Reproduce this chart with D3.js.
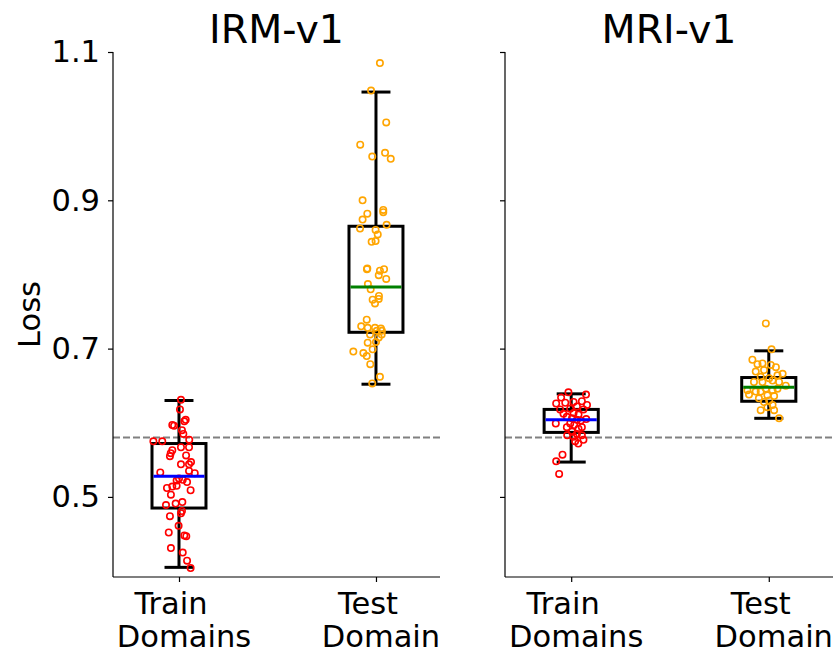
<!DOCTYPE html>
<html>
<head>
<meta charset="utf-8">
<script src="https://cdn.jsdelivr.net/npm/d3@7"></script>
<style>
  body { margin: 0; background: #fff; }
  svg { font-family: "DejaVu Sans", sans-serif; }
</style>
</head>
<body>
<div class="js-vis"></div>
<script>
const panels = ['IRM-v1', 'MRI-v1']
const groups = ['Train Domains', 'Test Domain']
const yTicks = [0.5, 0.7, 0.9, 1.1]
const baseline = 0.58

// box stats per panel: [train, test] -> [lowCap, q1, median, q3, highCap]
const boxStats = [
  [[0.405, 0.485, 0.528, 0.572, 0.630], [0.652, 0.722, 0.783, 0.865, 1.046]],
  [[0.547, 0.587, 0.604, 0.618, 0.639], [0.606, 0.629, 0.648, 0.661, 0.697]]
]

// raw points (loss) and their horizontal jitter (in category units)
const irmTrain = [0.631, 0.618, 0.604, 0.602, 0.597, 0.596, 0.590, 0.585, 0.575, 0.575, 0.577,
  0.567, 0.567, 0.563, 0.559, 0.555, 0.556, 0.547, 0.544, 0.544, 0.535, 0.532, 0.533, 0.525,
  0.522, 0.523, 0.520, 0.514, 0.512, 0.515, 0.509, 0.503, 0.489, 0.491, 0.493, 0.478, 0.481,
  0.474, 0.461, 0.452, 0.448, 0.447, 0.431, 0.425, 0.414, 0.404]
const irmTrainJit = [0.010, 0.005, 0.034, 0.027, -0.034, -0.025, 0.015, 0.022, -0.130, -0.085, 0.052,
  0.010, 0.051, -0.034, -0.042, -0.046, 0.036, 0.061, 0.051, 0.010, 0.051, 0.080, -0.095, 0.000,
  -0.012, 0.019, 0.041, -0.034, -0.061, -0.012, 0.059, -0.041, -0.066, -0.017, 0.017, 0.010, 0.015,
  -0.046, -0.002, -0.052, 0.027, 0.037, -0.041, 0.019, 0.041, 0.059]

const irmTest = [1.085, 1.048, 1.005, 0.975, 0.959, 0.964, 0.956, 0.900, 0.887, 0.882, 0.884,
  0.874, 0.867, 0.862, 0.860, 0.854, 0.844, 0.845, 0.808, 0.807, 0.805, 0.807, 0.799, 0.794,
  0.787, 0.780, 0.771, 0.766, 0.761, 0.767, 0.739, 0.730, 0.728, 0.728, 0.727, 0.724, 0.724,
  0.719, 0.719, 0.715, 0.709, 0.708, 0.699, 0.696, 0.694, 0.690, 0.679, 0.662, 0.653]
const irmTestJit = [0.020, -0.025, 0.052, -0.080, -0.019, 0.046, 0.075, -0.068, 0.037, -0.044, 0.037,
  -0.068, 0.054, -0.081, -0.002, 0.009, -0.022, -0.002, -0.044, -0.046, 0.020, 0.041, 0.014, 0.052,
  -0.041, -0.027, 0.015, -0.017, -0.005, 0.014, -0.047, -0.075, -0.042, -0.005, 0.025, 0.004, 0.030,
  -0.030, 0.029, 0.014, 0.000, -0.042, -0.017, -0.115, -0.064, -0.047, -0.029, 0.020, -0.019]

const mriTrain = [0.641, 0.638, 0.634, 0.626, 0.627, 0.628, 0.629, 0.624, 0.622, 0.618, 0.619, 0.618,
  0.612, 0.613, 0.611, 0.608, 0.606, 0.605, 0.604, 0.603, 0.599, 0.599, 0.597, 0.592, 0.594,
  0.594, 0.588, 0.585, 0.583, 0.581, 0.583, 0.575, 0.577, 0.572, 0.557, 0.548, 0.531]
const mriTrainJit = [-0.014, 0.075, -0.051, -0.076, -0.030, 0.012, 0.054, 0.080, 0.029, -0.056, -0.005, 0.062,
  -0.039, 0.012, 0.037, -0.022, 0.004, 0.076, 0.029, 0.049, -0.078, -0.005, 0.015, 0.037, -0.022,
  0.054, 0.004, 0.029, -0.020, 0.012, 0.054, 0.020, 0.062, 0.036, -0.044, -0.076, -0.061]

const mriTest = [0.734, 0.699, 0.685, 0.679, 0.680, 0.678, 0.675, 0.669, 0.671, 0.666, 0.664,
  0.662, 0.660, 0.655, 0.655, 0.657, 0.655, 0.650, 0.644, 0.642, 0.642, 0.646, 0.644, 0.646,
  0.638, 0.637, 0.636, 0.633, 0.630, 0.628, 0.624, 0.621, 0.617, 0.617, 0.606]
const mriTestJit = [-0.015, 0.014, -0.083, -0.057, -0.032, 0.010, 0.036, -0.066, -0.024, 0.070, 0.044,
  -0.041, 0.002, -0.075, -0.032, 0.019, 0.052, 0.086, -0.108, -0.066, -0.041, -0.015, 0.019, 0.044,
  -0.100, -0.007, 0.027, -0.050, 0.002, -0.024, 0.019, -0.007, -0.041, 0.027, 0.052]

const points = [
  [[irmTrain, irmTrainJit], [irmTest, irmTestJit]],
  [[mriTrain, mriTrainJit], [mriTest, mriTestJit]]
]

const pointColors = ['red', 'orange']
const medianColors = ['blue', 'green']

const W = 839, H = 659
const yTop = 52, yBottom = 577
const panelX = [[113, 440], [505, 833]]

const svg = d3.select('.js-vis').append('svg')
  .attr('width', W)
  .attr('height', H)

const y = d3.scaleLinear()
  .domain([0.392, 1.1])
  .range([yBottom, yTop])

const boxW = 0.274, capW = 0.147

panels.forEach(function(name, p) {
  const x = d3.scaleLinear()
    .domain([0.665, 2.325])
    .range(panelX[p])

  const g = svg.append('g')

  // dashed reference line
  g.append('line')
    .attr('x1', panelX[p][0]).attr('x2', panelX[p][1])
    .attr('y1', y(baseline)).attr('y2', y(baseline))
    .attr('stroke', '#808080')
    .attr('stroke-width', 2)
    .attr('stroke-dasharray', '7,3')

  groups.forEach(function(grp, i) {
    const s = boxStats[p][i], c = i + 1
    const b = g.append('g')
      .attr('stroke', 'black')
      .attr('stroke-width', 3)
      .attr('fill', 'none')

    b.append('line').attr('x1', x(c)).attr('x2', x(c)).attr('y1', y(s[0])).attr('y2', y(s[1]))
    b.append('line').attr('x1', x(c)).attr('x2', x(c)).attr('y1', y(s[3])).attr('y2', y(s[4]))
    b.append('line').attr('x1', x(c - capW / 2)).attr('x2', x(c + capW / 2)).attr('y1', y(s[0])).attr('y2', y(s[0]))
    b.append('line').attr('x1', x(c - capW / 2)).attr('x2', x(c + capW / 2)).attr('y1', y(s[4])).attr('y2', y(s[4]))
    b.append('rect')
      .attr('x', x(c - boxW / 2))
      .attr('y', y(s[3]))
      .attr('width', x(c + boxW / 2) - x(c - boxW / 2))
      .attr('height', y(s[1]) - y(s[3]))

    const vals = points[p][i][0], jit = points[p][i][1]
    g.append('g').selectAll('circle')
      .data(vals)
    .enter().append('circle')
      .attr('cx', function(d, k) { return x(c + jit[k]) })
      .attr('cy', function(d) { return y(d) })
      .attr('r', 3.2)
      .attr('fill', 'none')
      .attr('stroke', pointColors[i])
      .attr('stroke-width', 1.6)

    g.append('line')
      .attr('x1', x(c - boxW / 2) + 1.5).attr('x2', x(c + boxW / 2) - 1.5)
      .attr('y1', y(s[2])).attr('y2', y(s[2]))
      .attr('stroke', medianColors[i])
      .attr('stroke-width', 3)
  })

  // axes
  const yax = d3.axisLeft(y).tickValues(yTicks).tickSize(5).tickPadding(8)
    .tickFormat(p === 0 ? d3.format('.1f') : '')
  const ya = g.append('g')
    .attr('transform', 'translate(' + panelX[p][0] + ',0)')
    .call(yax)
  ya.select('.domain').attr('d', 'M0,' + yTop + 'V' + yBottom)

  const xax = d3.axisBottom(x).tickValues([1, 2]).tickSize(5).tickFormat('')
  const xa = g.append('g')
    .attr('transform', 'translate(0,' + yBottom + ')')
    .call(xax)
  xa.select('.domain').attr('d', 'M' + panelX[p][0] + ',0H' + panelX[p][1])

  g.selectAll('.domain, .tick line').attr('stroke', 'black').attr('stroke-width', 1.2)
  ya.selectAll('.tick text')
    .attr('font-size', 30.5)
    .attr('font-family', 'DejaVu Sans')
    .attr('fill', 'black')

  // two-line tick labels; lines sit slightly off-centre as in the source
  const lineShift = [-8, 5]
  groups.forEach(function(grp, i) {
    const words = grp.split(' ')
    const t = g.append('text')
      .attr('text-anchor', 'middle')
      .attr('font-size', 30.5)
      .attr('fill', 'black')
    words.forEach(function(w, k) {
      t.append('tspan')
        .attr('x', x(i + 1) + lineShift[k])
        .attr('y', 614 + k * 33)
        .text(w)
    })
  })

  g.append('text')
    .attr('x', (panelX[p][0] + panelX[p][1]) / 2)
    .attr('y', 43)
    .attr('text-anchor', 'middle')
    .attr('font-size', 39.5)
    .attr('fill', 'black')
    .text(name)
})

svg.append('text')
  .attr('transform', 'translate(40,' + (yTop + yBottom) / 2 + ') rotate(-90)')
  .attr('text-anchor', 'middle')
  .attr('font-size', 30.5)
  .attr('fill', 'black')
  .text('Loss')
</script>
</body>
</html>
